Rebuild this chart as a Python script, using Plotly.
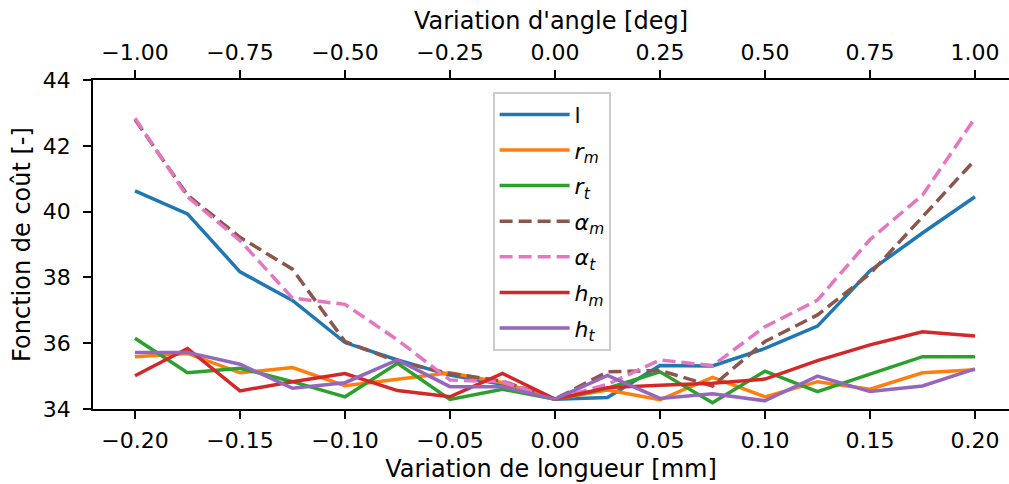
import plotly.graph_objects as go

# Data
longueur = [-0.2, -0.175, -0.15, -0.125, -0.1, -0.075, -0.05, -0.025, 0.0,
            0.025, 0.05, 0.075, 0.1, 0.125, 0.15, 0.175, 0.2]
angle = [-1.0, -0.875, -0.75, -0.625, -0.5, -0.375, -0.25, -0.125, 0.0,
         0.125, 0.25, 0.375, 0.5, 0.625, 0.75, 0.875, 1.0]
l_vals = [40.63, 39.93, 38.17, 37.3, 36.02, 35.49, 35.03, 34.75, 34.3,
          34.35, 35.32, 35.31, 35.84, 36.52, 38.2, 39.35, 40.45]
r_m = [35.59, 35.69, 35.1, 35.26, 34.71, 34.9, 35.1, 34.8, 34.3,
       34.58, 34.28, 34.96, 34.37, 34.83, 34.6, 35.1, 35.19]
r_t = [36.15, 35.1, 35.24, 34.83, 34.37, 35.39, 34.29, 34.6, 34.3,
       34.63, 35.13, 34.19, 35.15, 34.53, 35.06, 35.59, 35.59]
alpha_m = [42.8, 40.5, 39.22, 38.25, 36.05, 35.44, 35.08, 34.85, 34.3,
           35.13, 35.17, 34.7, 36.05, 36.86, 38.11, 39.84, 41.57]
alpha_t = [42.84, 40.45, 39.12, 37.37, 37.18, 36.1, 34.88, 34.83, 34.3,
           34.75, 35.49, 35.32, 36.5, 37.31, 39.15, 40.5, 42.84]
h_m = [35.01, 35.84, 34.55, 34.83, 35.08, 34.56, 34.37, 35.08, 34.3,
       34.65, 34.72, 34.78, 34.91, 35.47, 35.95, 36.35, 36.22]
h_t = [35.72, 35.72, 35.36, 34.63, 34.8, 35.49, 34.68, 34.68, 34.3,
       35.02, 34.32, 34.46, 34.25, 35.0, 34.53, 34.7, 35.22]

x_ticks = [-0.2, -0.15, -0.1, -0.05, 0.0, 0.05, 0.1, 0.15, 0.2]
angle_ticks = [-1.0, -0.75, -0.5, -0.25, 0.0, 0.25, 0.5, 0.75, 1.0]
y_ticks = [34, 36, 38, 40, 42, 44]

series = [
    ("l", l_vals, "#1f77b4", "solid"),
    ("<i>r</i><sub><i>m</i></sub>", r_m, "#ff7f0e", "solid"),
    ("<i>r</i><sub><i>t</i></sub>", r_t, "#2ca02c", "solid"),
    ("<i>α</i><sub><i>m</i></sub>", alpha_m, "#8c564b", "13px,6px"),
    ("<i>α</i><sub><i>t</i></sub>", alpha_t, "#e377c2", "13px,6px"),
    ("<i>h</i><sub><i>m</i></sub>", h_m, "#d62728", "solid"),
    ("<i>h</i><sub><i>t</i></sub>", h_t, "#9467bd", "solid"),
]

FONT = "DejaVu Sans"
TICK = 22
TITLE = 24
fig = go.Figure()
for i, (name, vals, color, dash) in enumerate(series):
    fig.add_trace(go.Scatter(
        x=longueur, y=vals, mode="lines", name=name,
        legendgroup=f"g{i}",
        line=dict(color=color, width=3.5, dash=dash),
        xaxis="x", yaxis="y",
    ))

# invisible trace to drive the top angle axis
fig.add_trace(go.Scatter(x=angle, y=l_vals, mode="lines", opacity=0,
                         showlegend=False, hoverinfo="skip",
                         xaxis="x2", yaxis="y"))

x0, x1 = -0.22, 0.2162
axis_common = dict(showline=True, linecolor="black", linewidth=1.9,
                   ticks="outside", ticklen=8, tickwidth=1.9, tickcolor="black",
                   showgrid=False, zeroline=False,
                   tickfont=dict(family=FONT, size=TICK, color="black"))

fig.update_layout(
    width=1009, height=484,
    margin=dict(l=93, r=0, t=80, b=75),
    paper_bgcolor="white", plot_bgcolor="white",
    font=dict(family=FONT, size=TICK, color="black"),
    xaxis=dict(range=[x0, x1], tickvals=x_ticks, tickformat=".2f",
               ticklabelstandoff=3,
               title=dict(text="Variation de longueur [mm]", standoff=8,
                          font=dict(family=FONT, size=TITLE)),
               automargin=False, **axis_common),
    xaxis2=dict(range=[x0 * 5, x1 * 5], tickvals=angle_ticks, tickformat=".2f",
                overlaying="x", side="top", anchor="y",
                ticklabelstandoff=1,
                title=dict(text="Variation d'angle [deg]", standoff=4,
                           font=dict(family=FONT, size=TITLE)),
                automargin=False, **axis_common),
    yaxis=dict(range=[34, 44], tickvals=y_ticks, ticklabelstandoff=8,
               title=dict(text="Fonction de coût [-]", standoff=5,
                          font=dict(family=FONT, size=TITLE)),
               automargin=False, **axis_common),
    legend=dict(x=0.4367, y=0.9635, xanchor="left", yanchor="top",
                bgcolor="rgba(255,255,255,0.8)", bordercolor="#cccccc",
                borderwidth=1.6, font=dict(family=FONT, size=TICK),
                tracegroupgap=4, traceorder="grouped", itemwidth=70),
    showlegend=True,
)

fig.write_html("out.html", config={"displayModeBar": False},
               post_script="document.body.style.margin='0';")
